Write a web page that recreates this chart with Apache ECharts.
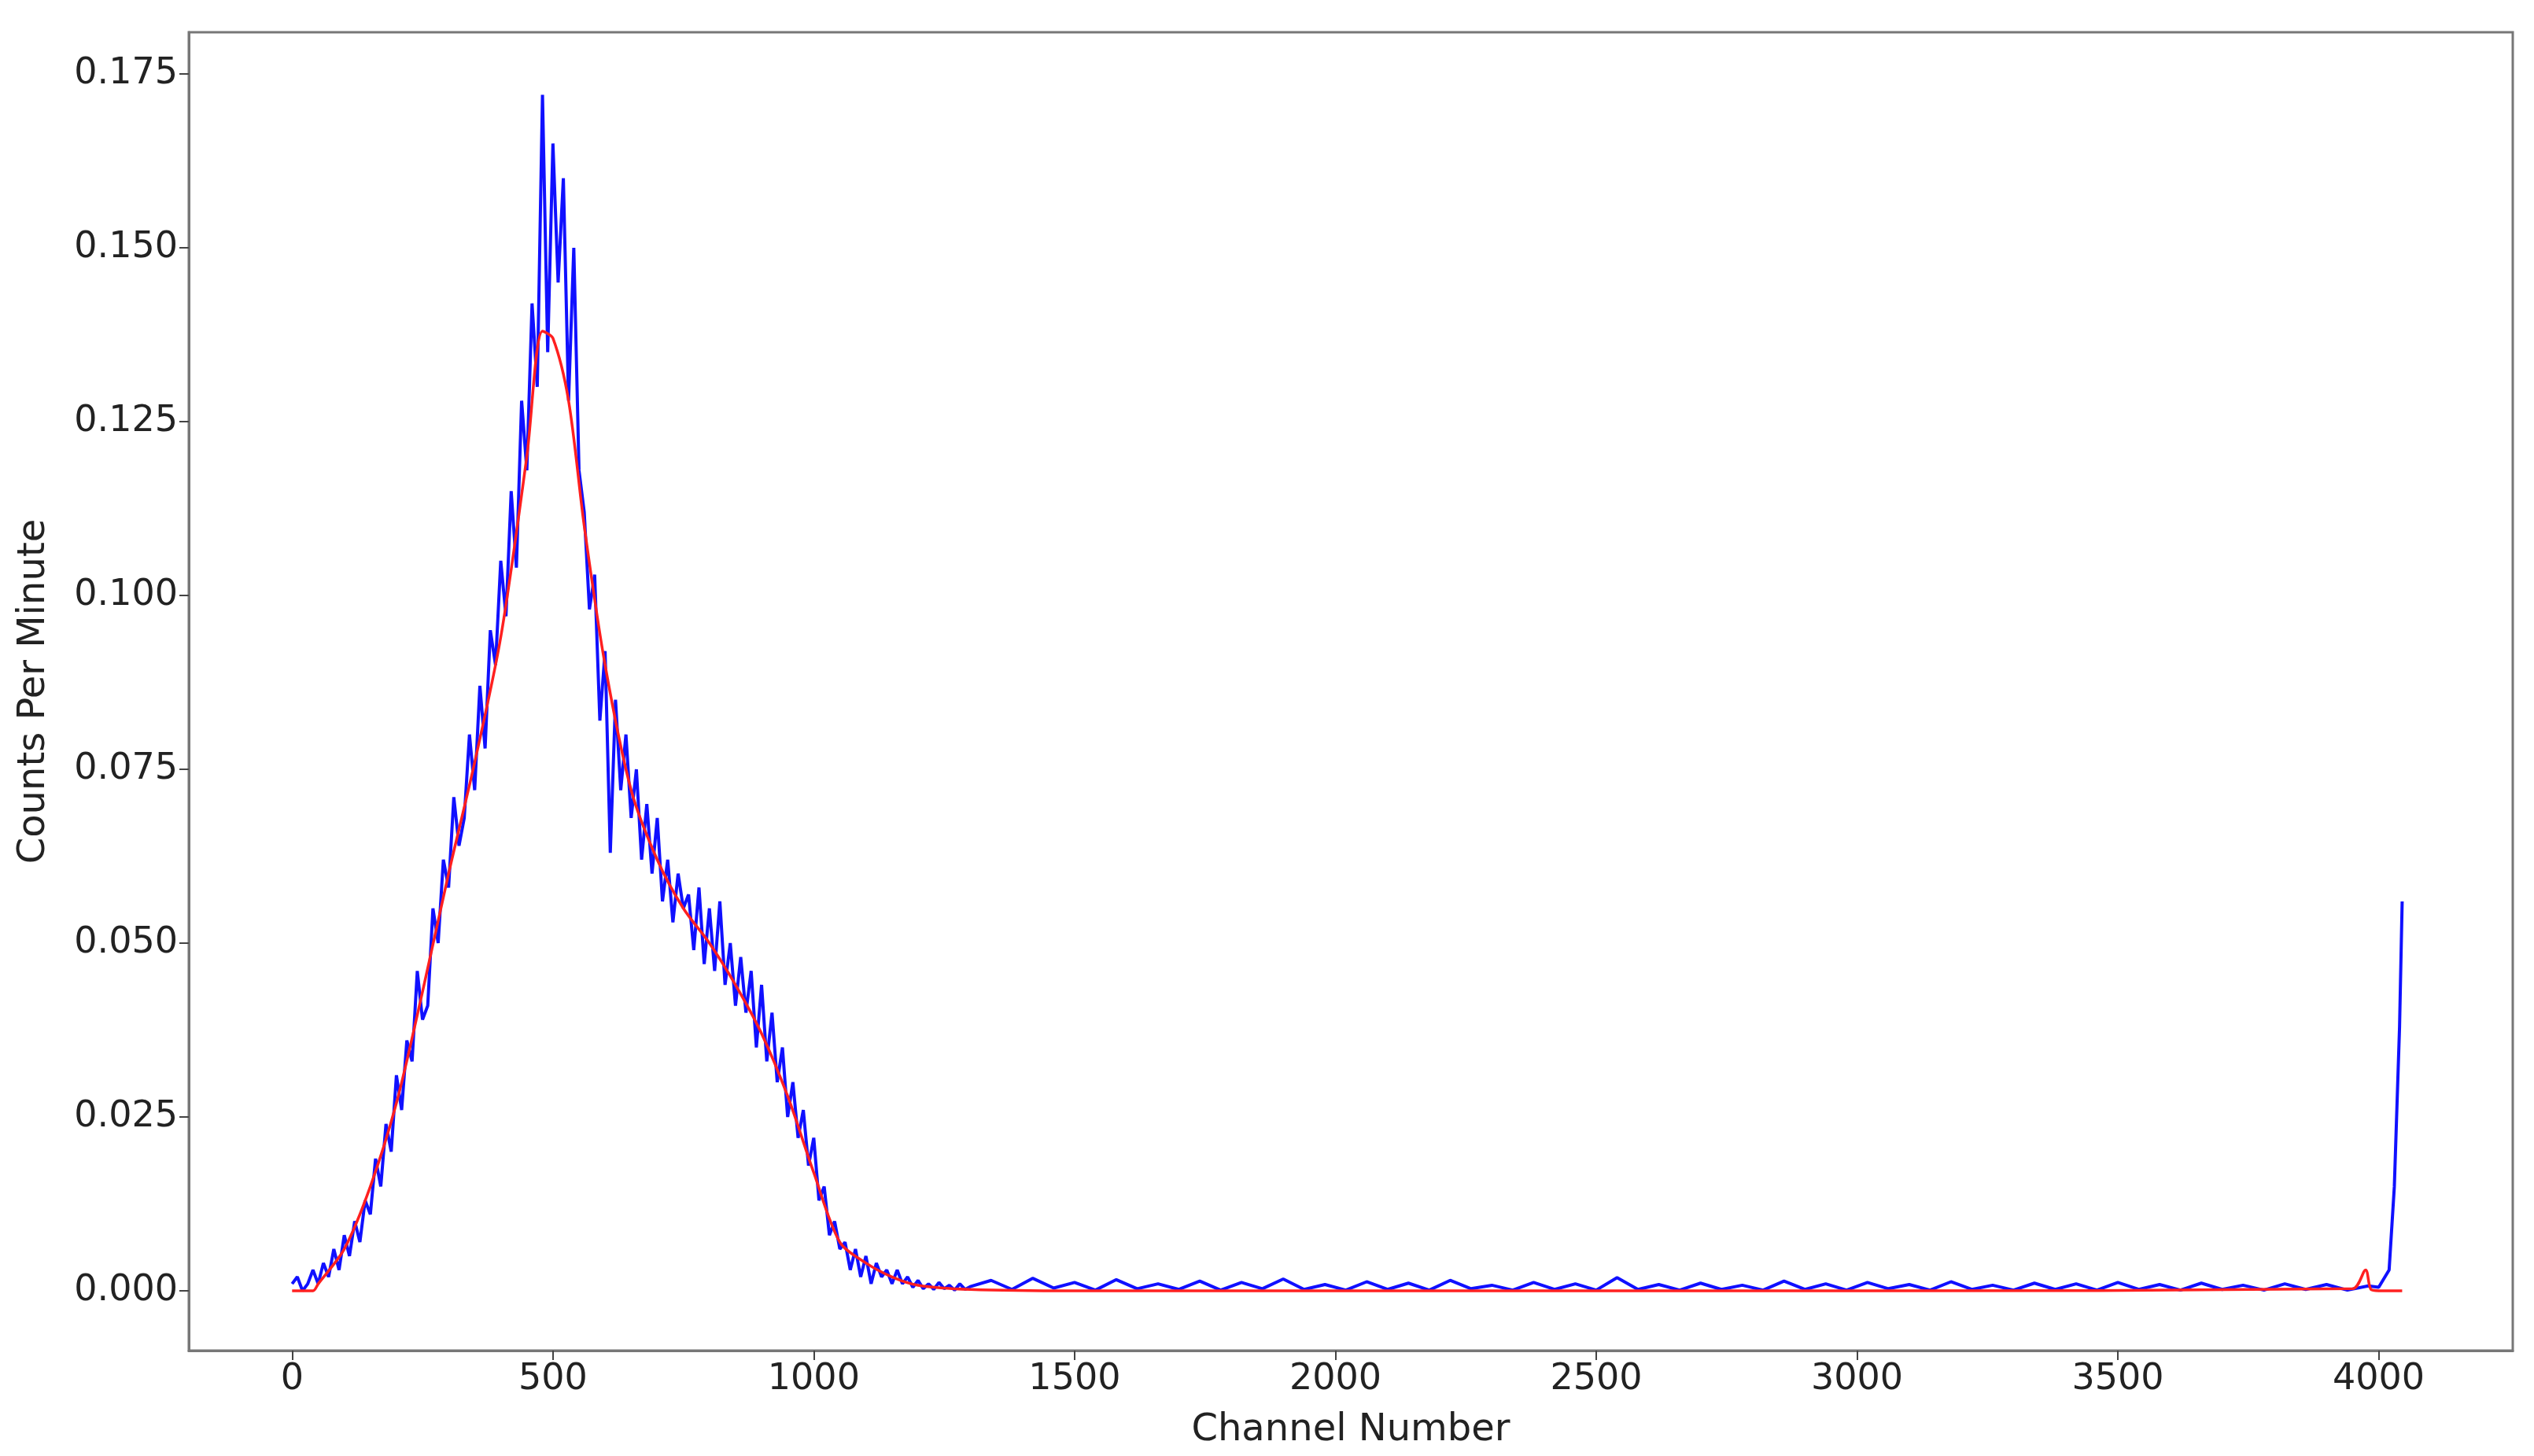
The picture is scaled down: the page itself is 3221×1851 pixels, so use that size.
<!DOCTYPE html>
<html>
<head>
<meta charset="utf-8">
<title>Spectrum</title>
<script src="https://cdn.jsdelivr.net/npm/echarts@6/dist/echarts.min.js"></script>
<style>
  html, body { margin: 0; padding: 0; background: #fff; }
  #chart { width: 3221px; height: 1851px; }
</style>
</head>
<body>
<div id="chart"></div>
<script>
// measured counts, channels 0..1300 step 10
var peakStep = 10;
var peakCounts = [
  0.001, 0.002, 0.000, 0.001, 0.003, 0.001,
  0.004, 0.002, 0.006, 0.003, 0.008, 0.005, 0.010, 0.007, 0.013, 0.011,
  0.019, 0.015, 0.024, 0.020, 0.031, 0.026, 0.036, 0.033, 0.046, 0.039,
  0.041, 0.055, 0.050, 0.062, 0.058, 0.071, 0.064, 0.068, 0.080, 0.072,
  0.087, 0.078, 0.095, 0.090, 0.105, 0.097, 0.115, 0.104, 0.128, 0.118,
  0.142, 0.130, 0.172, 0.135, 0.165, 0.145, 0.160, 0.128, 0.150, 0.118,
  0.112, 0.098, 0.103, 0.082, 0.092, 0.063, 0.085, 0.072, 0.080, 0.068,
  0.075, 0.062, 0.070, 0.060, 0.068, 0.056, 0.062, 0.053, 0.060, 0.055,
  0.057, 0.049, 0.058, 0.047, 0.055, 0.046, 0.056, 0.044, 0.050, 0.041,
  0.048, 0.040, 0.046, 0.035, 0.044, 0.033, 0.040, 0.030, 0.035, 0.025,
  0.030, 0.022, 0.026, 0.018, 0.022, 0.013, 0.015, 0.008, 0.010, 0.006,
  0.007, 0.003, 0.006, 0.002, 0.005, 0.001, 0.004, 0.002, 0.003, 0.001,
  0.003, 0.001, 0.002, 0.0005, 0.0015, 0.0003, 0.001, 0.0002, 0.0012, 0.0003,
  0.0008, 0.0001, 0.001, 0.0002, 0.0006
];
// flat tail, channels 1340..3980 step 40
var tailStart = 1340, tailStep = 40;
var tailCounts = [
  0.0015, 0.0002, 0.0018, 0.0004, 0.0012, 0.0001, 0.0016, 0.0003, 0.0010, 0.0002,
  0.0014, 0.0001, 0.0012, 0.0003, 0.0017, 0.0002, 0.0009, 0.0001, 0.0013, 0.0002,
  0.0011, 0.0001, 0.0015, 0.0003, 0.0008, 0.0001, 0.0012, 0.0002, 0.0010, 0.0001,
  0.0019, 0.0002, 0.0009, 0.0001, 0.0011, 0.0002, 0.0008, 0.0001, 0.0014, 0.0002,
  0.0010, 0.0001, 0.0012, 0.0003, 0.0009, 0.0001, 0.0013, 0.0002, 0.0008, 0.0001,
  0.0011, 0.0002, 0.0010, 0.0001, 0.0012, 0.0002, 0.0009, 0.0001, 0.0011, 0.0002,
  0.0008, 0.0001, 0.0010, 0.0002, 0.0009, 0.0001, 0.0007
];
// overflow spike at the last channels
var endChannels = [4000, 4020, 4030, 4040, 4045];
var endCounts = [0.0005, 0.003, 0.015, 0.038, 0.056];

// smoothed fit
var fitChannels = [0, 40, 50, 100, 150, 200, 250, 300, 350, 400, 450, 480, 500, 530, 560, 600, 650, 700, 750, 800, 850, 900, 950, 1000, 1050, 1100, 1150, 1200, 1300, 1500, 2000, 3000, 3950, 3975, 3985, 4000, 4045];
var fitCounts   = [0, 0, 0.001, 0.006, 0.015, 0.027, 0.043, 0.060, 0.076, 0.094, 0.120, 0.138, 0.137, 0.128, 0.110, 0.090, 0.072, 0.062, 0.055, 0.050, 0.044, 0.037, 0.028, 0.017, 0.007, 0.004, 0.002, 0.0008, 0.0002, 0, 0, 0, 0.0003, 0.003, 0.0002, 0, 0];

var xTicks = [0, 500, 1000, 1500, 2000, 2500, 3000, 3500, 4000];
var yTicks = [0, 0.025, 0.05, 0.075, 0.1, 0.125, 0.15, 0.175];

var blue = [];
peakCounts.forEach(function (v, i) { blue.push([i * peakStep, v]); });
tailCounts.forEach(function (v, i) { blue.push([tailStart + i * tailStep, v]); });
endCounts.forEach(function (v, i) { blue.push([endChannels[i], v]); });
var red = fitChannels.map(function (c, i) { return [c, fitCounts[i]]; });

var chart = echarts.init(document.getElementById('chart'));
var labelFont = { fontFamily: 'DejaVu Sans', fontSize: 46, color: '#222' };
var nameFont = { fontFamily: 'DejaVu Sans', fontSize: 48, color: '#222' };
chart.setOption({
  animation: false,
  grid: { left: 240, right: 27, top: 41, bottom: 134, containLabel: false, outerBoundsMode: 'none' },
  xAxis: {
    type: 'value', min: -198, max: 4257,
    name: 'Channel Number', nameLocation: 'middle', nameGap: 78,
    nameTextStyle: nameFont,
    axisLine: { onZero: false, lineStyle: { color: '#777', width: 3 } },
    axisTick: { show: true, length: 12, lineStyle: { color: '#444', width: 2 },
      customValues: xTicks },
    axisLabel: Object.assign({ margin: 14, customValues: xTicks,
      formatter: function (v) { return String(v); } }, labelFont),
    splitLine: { show: false }
  },
  yAxis: {
    type: 'value', min: -0.0086, max: 0.181,
    name: 'Counts Per Minute', nameLocation: 'middle', nameGap: 172,
    nameTextStyle: nameFont,
    axisLine: { show: true, onZero: false, lineStyle: { color: '#777', width: 3 } },
    axisTick: { show: true, length: 12, lineStyle: { color: '#444', width: 2 },
      customValues: yTicks },
    axisLabel: Object.assign({ margin: 14, customValues: yTicks,
      formatter: function (v) { return v.toFixed(3); } }, labelFont),
    splitLine: { show: false }
  },
  graphic: [{
    type: 'rect', shape: { x: 240, y: 41, width: 2954, height: 1676 },
    style: { fill: 'none', stroke: '#777', lineWidth: 3 }, silent: true
  }],
  series: [
    { type: 'line', data: blue, showSymbol: false,
      lineStyle: { color: '#1010ff', width: 4 } },
    { type: 'line', data: red, showSymbol: false, smooth: 0.3,
      lineStyle: { color: '#ff2020', width: 3.5 } }
  ]
});
</script>
</body>
</html>
